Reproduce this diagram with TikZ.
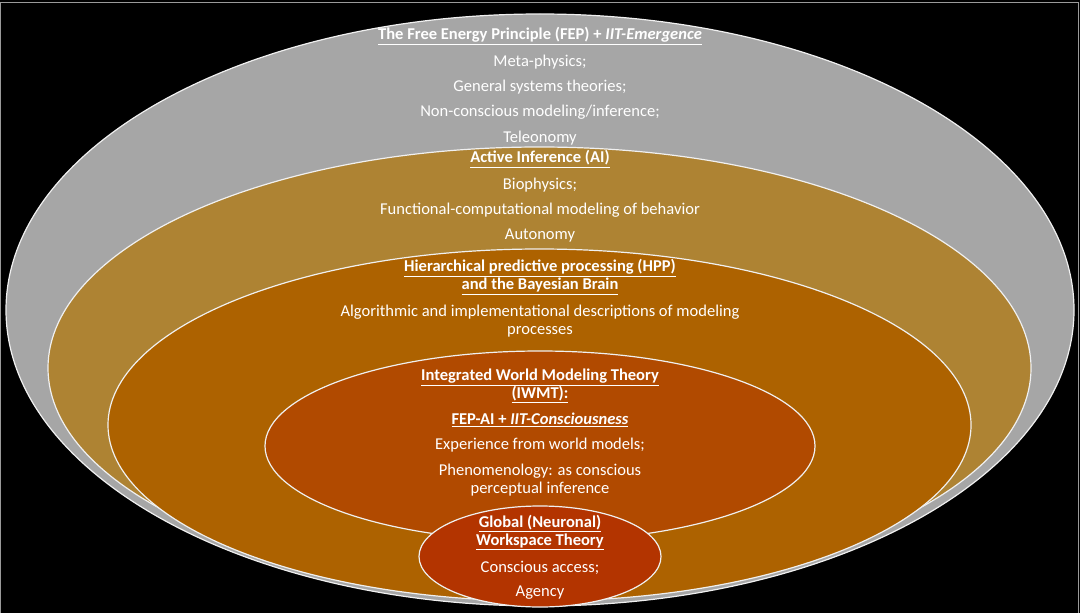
\documentclass[tikz,border=0pt]{standalone}
\usepackage{fontspec}
\setmainfont{Carlito}
\definecolor{fepgray}{HTML}{A6A6A6}
\definecolor{aigold}{HTML}{AE8333}
\definecolor{hppbrown}{HTML}{AD6200}
\definecolor{iwmtorange}{HTML}{B14A00}
\definecolor{gnwred}{HTML}{B33400}
\definecolor{framegray}{HTML}{9A9A9A}
\begin{document}
\begin{tikzpicture}[x=0.75pt,y=-0.75pt,
  layer/.style={draw=white!94!black,line width=0.9pt},
  txt/.style={text=white,font=\fontsize{12.4}{13.5}\selectfont,align=center,inner sep=0pt},
  head/.style={txt,font=\fontsize{12.4}{13.5}\selectfont\bfseries}]
\useasboundingbox (0,0) rectangle (1080,613);
\fill[black] (0,0) rectangle (1080,613);
\draw[framegray,line width=0.8pt] (0.6,613) -- (0.6,2.2) -- (1078.6,2.2) -- (1078.6,613);
% ellipses
\draw[layer,fill=fepgray] (540,310) ellipse [x radius=534,y radius=296];
\draw[layer,fill=aigold] (539.5,368) ellipse [x radius=491.5,y radius=221];
\draw[layer,fill=hppbrown] (539.5,425) ellipse [x radius=431.5,y radius=176];
\draw[layer,fill=iwmtorange] (540,446) ellipse [x radius=275,y radius=95];
\draw[layer,fill=gnwred] (540,556.5) ellipse [x radius=121,y radius=50.5];
% FEP
\node[head] (fepT) at (540,36) {\underline{The Free Energy Principle (FEP) + \textit{IIT-Emergence}}};
\node[txt] (fep1) at (540,62) {Meta-physics;};
\node[txt] (fep2) at (540,87) {General systems theories;};
\node[txt] (fep3) at (540,112) {Non-conscious modeling/inference;};
\node[txt] (fep4) at (540,138) {Teleonomy};
% AI
\node[head] (aiT) at (540,159) {\underline{Active Inference (AI)}};
\node[txt] (ai1) at (540,185) {Biophysics;};
\node[txt] (ai2) at (540,210) {Functional-computational modeling of behavior};
\node[txt] (ai3) at (540,236) {Autonomy};
% HPP
\node[head] (hppT) at (540,277) {\underline{Hierarchical predictive processing (HPP)}\\\underline{and the Bayesian Brain}};
\node[txt] (hpp1) at (540,321) {Algorithmic and implementational descriptions of modeling\\processes};
% IWMT
\node[head] (iwT) at (540,386) {\underline{Integrated World Modeling Theory}\\\underline{(IWMT):}};
\node[head] (iw1) at (540,420) {\underline{FEP-AI + \textit{IIT-Consciousness}}};
\node[txt] (iw2) at (540,445) {Experience from world models;};
\node[txt] (iw3) at (540,480) {Phenomenology: as conscious\\perceptual inference};
% GNW
\node[head] (gnT) at (540,532.5) {\underline{Global (Neuronal)}\\\underline{Workspace Theory}};
\node[txt] (gn1) at (540,568) {Conscious access;};
\node[txt] (gn2) at (540,593) {Agency};
\end{tikzpicture}
\end{document}
